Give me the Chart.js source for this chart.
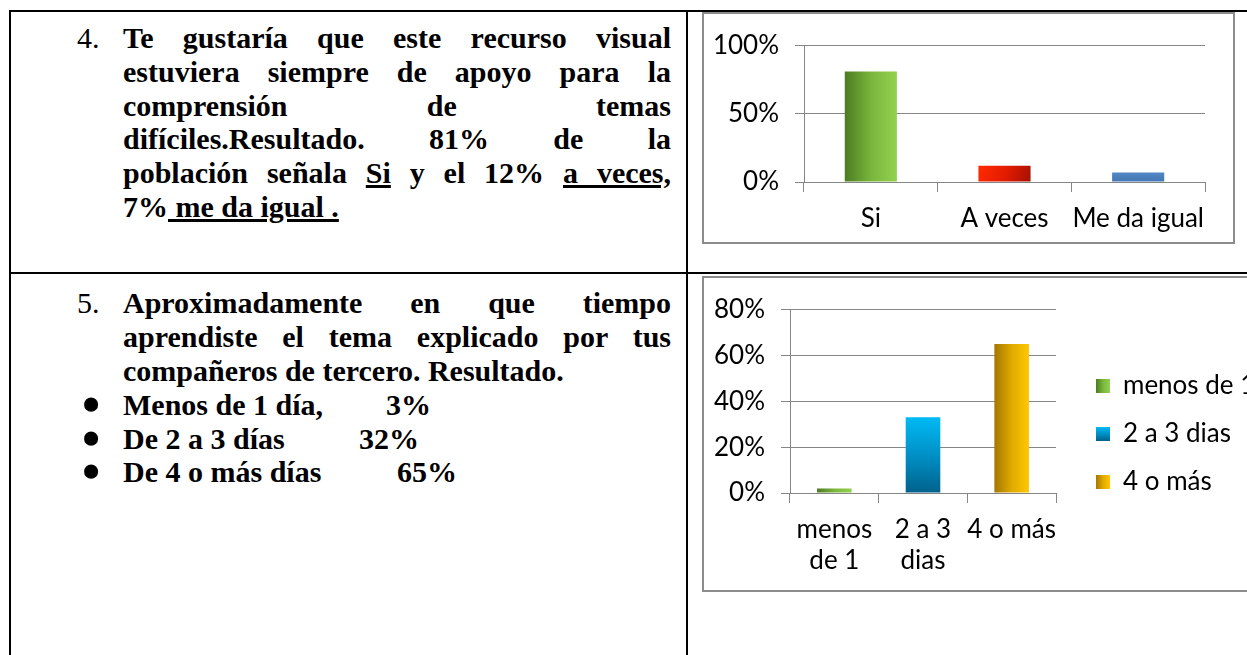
<!DOCTYPE html>
<html lang="es">

<head>
    <meta charset="UTF-8">
    <title>Resultados de la encuesta</title>
    <script src="https://cdn.jsdelivr.net/npm/chart.js"></script>
    <style>
        body {
            margin: 0;
            width: 1247px;
            height: 655px;
            overflow: hidden;
            position: relative;
            background: #fff;
        }

        .linea { position: absolute; background: #000; }

        .texto {
            position: absolute;
            left: 123px;
            width: 548px;
            font-family: 'Liberation Serif', serif;
            font-weight: bold;
            font-size: 30px;
            line-height: 33.8px;
            color: #000;
        }

        .texto div { text-align: justify; text-align-last: justify; }
        .texto div.fin { text-align-last: left; }

        .numero {
            position: absolute;
            left: 77px;
            font-family: 'Liberation Serif', serif;
            font-size: 30px;
            line-height: 33.8px;
        }

        .vineta {
            position: absolute;
            left: 0;
            top: 0;
            height: 33.8px;
            width: 548px;
            font-family: 'Liberation Serif', serif;
            font-weight: bold;
            font-size: 30px;
            line-height: 33.8px;
            white-space: pre;
        }

        .vineta span { position: absolute; top: 0; }
        .vineta .punto { left: 82px; font-size: 52px; line-height: 33.8px; }

        .caja {
            position: absolute;
            border: 2px solid #8c8c8c;
            box-sizing: border-box;
            background: #fff;
        }

        canvas { position: absolute; }
    </style>
</head>

<body>
    <!-- bordes de la tabla -->
    <div class="linea" style="left:9px; top:10px; width:1238px; height:2px;"></div>
    <div class="linea" style="left:9px; top:10px; width:2px; height:645px;"></div>
    <div class="linea" style="left:686px; top:10px; width:2px; height:645px;"></div>
    <div class="linea" style="left:9px; top:272px; width:1238px; height:2px;"></div>

    <div class="numero" style="top:21px;">4.</div>
    <div class="texto" style="top:21px;">
        <div>Te gustaría que este recurso visual</div>
        <div>estuviera siempre de apoyo para la</div>
        <div>comprensión de temas</div>
        <div>difíciles.Resultado. 81% de la</div>
        <div>población señala <u>Si</u> y el 12% <u>a veces,</u></div>
        <div class="fin">7%<u> me da igual .</u></div>
    </div>

    <div class="numero" style="top:286px;">5.</div>
    <div class="texto" style="top:286px;">
        <div>Aproximadamente en que tiempo</div>
        <div>aprendiste el tema explicado por tus</div>
        <div class="fin">compañeros de tercero. Resultado.</div>
    </div>

    <div class="vineta" style="top:388px;">
        <span class="punto">•</span>
        <span style="left:123px;">Menos de 1 día,</span>
        <span style="left:386px;">3%</span>
    </div>
    <div class="vineta" style="top:421.7px;">
        <span class="punto">•</span>
        <span style="left:123px;">De 2 a 3 días</span>
        <span style="left:359px;">32%</span>
    </div>
    <div class="vineta" style="top:455.4px;">
        <span class="punto">•</span>
        <span style="left:123px;">De 4 o más días</span>
        <span style="left:397px;">65%</span>
    </div>

    <div class="caja" style="left:702px; top:12px; width:533px; height:232px;"></div>
    <canvas id="grafico1" width="529" height="228" style="left:704px; top:14px;"></canvas>

    <div class="caja" style="left:702px; top:276px; width:590px; height:316px;"></div>
    <canvas id="grafico2" width="560" height="312" style="left:704px; top:278px;"></canvas>

    <script>
        const categorias1 = ['Si', 'A veces', 'Me da igual'];
        const porcentajes1 = [81, 12, 7];
        const marcasY1 = [0, 50, 100];

        const categorias2 = ['menos de 1', '2 a 3 dias', '4 o más'];
        const etiquetasX2 = [['menos', 'de 1'], ['2 a 3', 'dias'], ['4 o más']];
        const porcentajes2 = [2, 33, 65];
        const marcasY2 = [0, 20, 40, 60, 80];

        Chart.defaults.font.family = 'Lato';
        Chart.defaults.font.size = 26;
        Chart.defaults.color = '#000';

        const GRIS = '#868686';
        const ANCHO_BARRA = 0.39;

        // degradado de cada barra (h = horizontal, v = vertical, d = diagonal)
        const estilos1 = [
            { dir: 'h', paradas: ['#4c7b21', '#79b63c', '#93d150'] },
            { dir: 'd', paradas: ['#ff2a00', '#e41c00', '#a51000'] },
            { dir: 'v', paradas: ['#5088c6', '#4a7ebb', '#4579b5'] }
        ];
        const estilos2 = [
            { dir: 'h', paradas: ['#4c7b21', '#79b63c', '#93d150'] },
            { dir: 'v', paradas: ['#00baf4', '#0090c6', '#00618b'] },
            { dir: 'h', paradas: ['#a27700', '#e0a900', '#ffc800'] }
        ];

        function degradado(c, est, x0, y0, x1, y1) {
            let g;
            if (est.dir === 'h') g = c.createLinearGradient(x0, 0, x1, 0);
            else if (est.dir === 'v') g = c.createLinearGradient(0, y0, 0, y1);
            else g = c.createLinearGradient(x0, y0, x1, y1);
            est.paradas.forEach((col, i) => g.addColorStop(i / (est.paradas.length - 1), col));
            return g;
        }

        function colorBarra(estilos) {
            return function (ctx) {
                const est = estilos[ctx.dataIndex];
                if (!est) return GRIS;
                const chart = ctx.chart;
                if (!chart.chartArea) return est.paradas[1];
                const x = chart.scales.x;
                const y = chart.scales.y;
                const centro = x.getPixelForValue(ctx.dataIndex);
                const medio = x.width / estilos.length * ANCHO_BARRA / 2;
                return degradado(chart.ctx, est, centro - medio, y.getPixelForValue(ctx.raw), centro + medio, y.getPixelForValue(0));
            };
        }

        // pone la leyenda en su sitio, a la derecha del área de trazado
        const posicionLeyenda = {
            id: 'posicionLeyenda',
            afterLayout(chart, args, opts) {
                const ley = chart.legend;
                if (!ley) return;
                const ancho = ley.width;
                const alto = ley.height;
                ley.left = opts.x;
                ley.right = opts.x + ancho;
                ley.top = opts.y;
                ley.bottom = opts.y + alto;
            }
        };

        function ejeX(alto) {
            return {
                afterFit: s => { s.height = alto; },
                ticks: { padding: 11, maxRotation: 0, minRotation: 0, autoSkip: false },
                grid: { drawOnChartArea: false, color: GRIS, tickLength: 10, offset: true },
                border: { color: GRIS }
            };
        }

        function ejeY(maximo, marcas, ancho) {
            return {
                min: 0,
                max: maximo,
                afterBuildTicks: s => { s.ticks = marcas.map(v => ({ value: v })); },
                afterFit: s => { s.width = ancho; },
                ticks: { padding: 16, callback: v => v + '%' },
                grid: { color: GRIS, tickLength: 9 },
                border: { color: GRIS }
            };
        }

        new Chart(document.getElementById('grafico1'), {
            type: 'bar',
            data: {
                labels: categorias1,
                datasets: [{
                    data: porcentajes1,
                    backgroundColor: colorBarra(estilos1),
                    barPercentage: ANCHO_BARRA,
                    categoryPercentage: 1
                }]
            },
            options: {
                responsive: false,
                animation: false,
                layout: { padding: { left: 0, right: 28, top: 31, bottom: 0 } },
                plugins: { legend: { display: false }, tooltip: { enabled: false } },
                scales: {
                    x: ejeX(60),
                    y: ejeY(100, marcasY1, 100)
                }
            }
        });

        const eje2 = ejeX(97);
        eje2.ticks.callback = (v, i) => etiquetasX2[i];

        const LEYENDA = { x: 370, y: 73, caja: 14, sep: 22, fuente: 26 };

        new Chart(document.getElementById('grafico2'), {
            type: 'bar',
            data: {
                labels: categorias2,
                datasets: [{
                    data: porcentajes2,
                    backgroundColor: colorBarra(estilos2),
                    barPercentage: ANCHO_BARRA,
                    categoryPercentage: 1
                }]
            },
            options: {
                responsive: false,
                animation: false,
                layout: { padding: { left: 0, right: 208, top: 26, bottom: 0 } },
                plugins: {
                    tooltip: { enabled: false },
                    posicionLeyenda: { x: LEYENDA.x, y: LEYENDA.y },
                    legend: {
                        position: 'chartArea',
                        align: 'start',
                        labels: {
                            boxWidth: LEYENDA.caja,
                            boxHeight: LEYENDA.caja,
                            padding: LEYENDA.sep,
                            generateLabels: chart => categorias2.map((t, i) => {
                                // cuadro de la leyenda con el mismo degradado que su barra
                                const x0 = LEYENDA.x + LEYENDA.sep;
                                const y0 = LEYENDA.y + LEYENDA.sep + i * (LEYENDA.fuente + LEYENDA.sep) + (LEYENDA.fuente - LEYENDA.caja) / 2;
                                return {
                                    text: t,
                                    fillStyle: degradado(chart.ctx, estilos2[i], x0, y0, x0 + LEYENDA.caja, y0 + LEYENDA.caja),
                                    strokeStyle: 'rgba(0,0,0,0)',
                                    lineWidth: 0,
                                    hidden: false,
                                    index: i
                                };
                            })
                        }
                    }
                },
                scales: {
                    x: eje2,
                    y: ejeY(80, marcasY2, 86)
                }
            },
            plugins: [posicionLeyenda]
        });
    </script>
</body>

</html>
